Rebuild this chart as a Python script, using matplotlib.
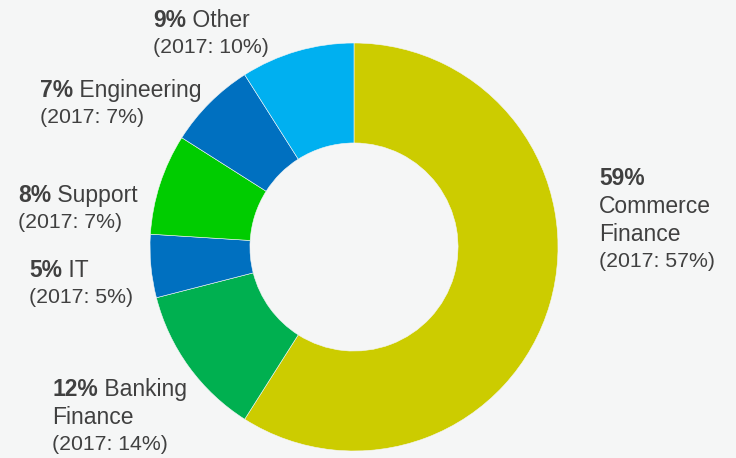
import matplotlib
matplotlib.use("Agg")
import matplotlib.pyplot as plt

# share of staff by area, 2018 vs 2017 (clockwise from top)
names = ["Commerce Finance", "Banking Finance", "IT", "Support", "Engineering", "Other"]
share = [59, 12, 5, 8, 7, 9]
prev = [57, 14, 5, 7, 7, 10]
colors = ["#CCCC00", "#00B050", "#0070C0", "#00CC00", "#0070C0", "#00B0F0"]

# label layout (pixel coords from top-left, left x / first baseline y)
label_xy = [(599, 185), (52, 396), (29, 277), (18, 202), (40, 97), (153, 27)]
words_first = [0, 1, 1, 1, 1, 1]  # name words that share the line with the pct

W, H = 736, 458
bg = "#F5F6F6"
txt = "#404040"
plt.rcParams["font.family"] = ["Liberation Sans", "DejaVu Sans"]

fig = plt.figure(figsize=(W / 100, H / 100), dpi=100, facecolor=bg)
ax = fig.add_axes([0, 0, 1, 1])

cx, cy, r_out = 354, 247, 204
ax.pie(share, colors=colors, startangle=90, counterclock=False,
       center=(cx, H - cy), radius=r_out, frame=True,
       wedgeprops=dict(width=r_out * 0.49, edgecolor=bg, linewidth=0.4))
ax.set_xlim(0, W)
ax.set_ylim(0, H)
ax.set_facecolor(bg)
ax.axis("off")

fs_main, fs_sub, lh = 16.5, 15.3, 28
for i in range(len(names)):
    x, y = label_xy[i]
    words = names[i].split()
    first = " ".join(words[:words_first[i]])
    rest = words[words_first[i]:]
    if words_first[i] == 0:
        lines_after = rest
    else:
        lines_after = [" ".join(rest)] if rest else []
    b = ax.text(x, H - y, f"{share[i]}%", fontsize=fs_main, fontweight="bold",
                color=txt, va="baseline", ha="left")
    if first:
        ax.annotate(" " + first, xy=(1, 0), xycoords=b, fontsize=fs_main,
                    color=txt, va="bottom", ha="left")
    yy = y
    for ln in lines_after:
        yy += lh
        ax.text(x, H - yy, ln, fontsize=fs_main, color=txt, va="baseline", ha="left")
    yy += lh - 2
    ax.text(x, H - yy, f"(2017: {prev[i]}%)", fontsize=fs_sub, color=txt,
            va="baseline", ha="left")

fig.savefig("out.png", dpi=100, facecolor=bg)
